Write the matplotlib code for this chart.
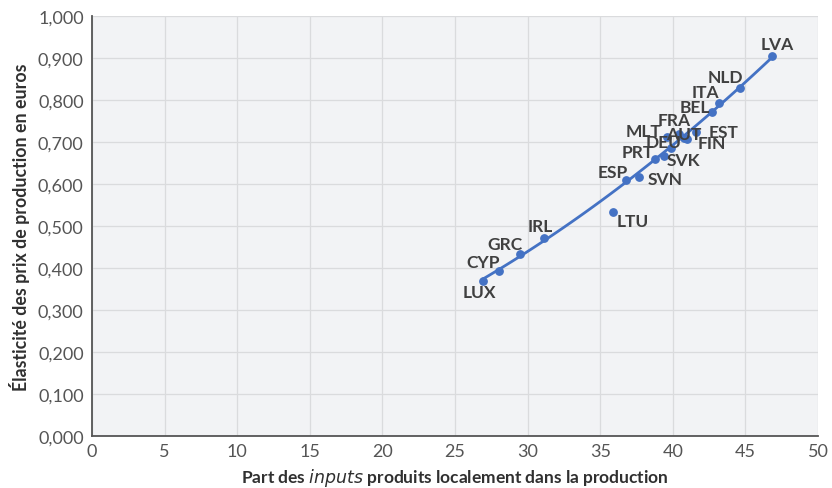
import numpy as np
import matplotlib
matplotlib.use('Agg')
import matplotlib.pyplot as plt
from matplotlib.ticker import FuncFormatter

plt.rcParams['font.family'] = ['Lato', 'DejaVu Sans']

countries = ['LUX', 'CYP', 'GRC', 'IRL', 'LTU', 'ESP', 'SVN', 'PRT', 'SVK', 'DEU',
             'MLT', 'FRA', 'AUT', 'FIN', 'EST', 'BEL', 'ITA', 'NLD', 'LVA']
share = [26.95, 28.0, 29.5, 31.15, 35.9, 36.8, 37.7, 38.8, 39.4, 39.9,
         39.6, 40.4, 40.8, 41.0, 41.6, 42.7, 43.2, 44.6, 46.8]
elasticity = [0.370, 0.394, 0.433, 0.471, 0.534, 0.609, 0.617, 0.660, 0.668, 0.685,
              0.712, 0.719, 0.710, 0.707, 0.725, 0.771, 0.793, 0.829, 0.905]
# label offsets in pixels (dx, dy)
offsets = {'LUX': (-4, -11), 'CYP': (-15, 9), 'GRC': (-15, 10), 'IRL': (-4, 12),
           'LTU': (19, -9), 'ESP': (-14, 8), 'SVN': (26, -2), 'PRT': (-18, 7),
           'SVK': (19, -4), 'DEU': (-8, 6), 'MLT': (-24, 6), 'FRA': (-4, 14),
           'AUT': (-1, 4), 'FIN': (24, -4), 'EST': (28, 0), 'BEL': (-17, 5),
           'ITA': (-14, 11), 'NLD': (-14, 11), 'LVA': (6, 12)}

blue = '#4472C4'
txt = '#404040'

fig = plt.figure(figsize=(8.32, 4.89), dpi=100)
ax = fig.add_axes([0.1106, 0.1063, 0.8726, 0.8587])
ax.set_facecolor('#F2F3F5')

x = np.array(share)
y = np.array(elasticity)
mask = np.array([c != 'LTU' for c in countries])
coef = np.polyfit(x[mask], y[mask], 2)
xs = np.linspace(x[mask].min(), x[mask].max(), 100)
ax.plot(xs, np.polyval(coef, xs), color=blue, lw=2, zorder=3)
ax.scatter(x, y, s=28, color=blue, zorder=4)

for c, xi, yi in zip(countries, share, elasticity):
    dx, dy = offsets[c]
    ax.annotate(c, (xi, yi), xytext=(dx, dy), textcoords='offset pixels',
                ha='center', va='center', fontsize=12.5, fontweight='bold',
                color=txt, zorder=5)

ax.set_xlim(0, 50)
ax.set_ylim(0, 1.0)
ax.set_xticks(np.arange(0, 51, 5))
ax.set_yticks(np.arange(0, 1.01, 0.1))
ax.yaxis.set_major_formatter(FuncFormatter(lambda v, p: f'{v:.3f}'.replace('.', ',')))
ax.grid(True, color='#DADBDD', lw=0.9)
ax.set_axisbelow(True)
for s in ['top', 'right']:
    ax.spines[s].set_visible(False)
for s in ['left', 'bottom']:
    ax.spines[s].set_color('#555555')
    ax.spines[s].set_linewidth(1.3)
ax.tick_params(length=0, labelsize=13, labelcolor='#555555')
ax.tick_params(axis='x', pad=5)
ax.tick_params(axis='y', pad=6)

ax.set_xlabel('Part des $\\it{inputs}$ produits localement dans la production',
              fontsize=12.5, fontweight='bold', color='#303030', labelpad=5)
ax.set_ylabel('Élasticité des prix de production en euros',
              fontsize=12.8, fontweight='bold', color='#303030', labelpad=6)

fig.savefig('out.png', dpi=100)
